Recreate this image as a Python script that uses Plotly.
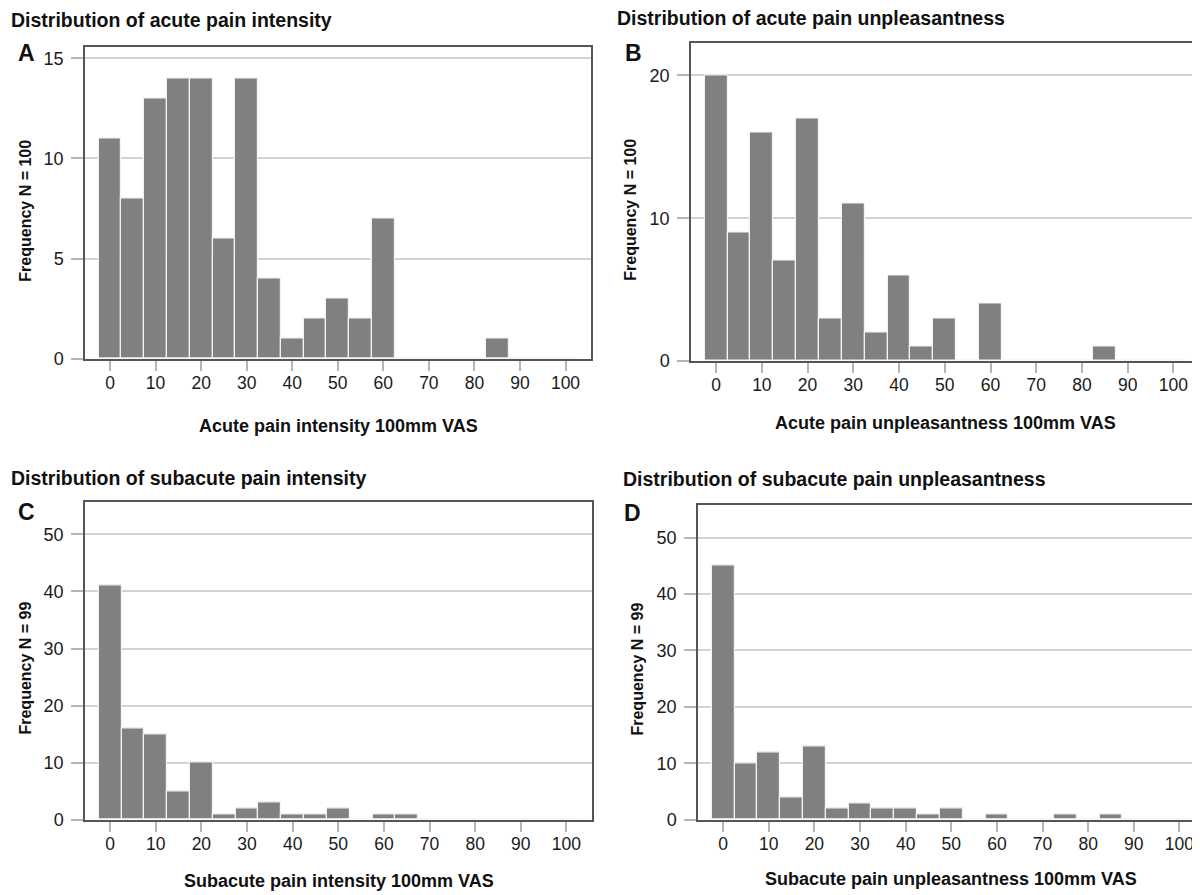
import plotly.graph_objects as go
from plotly.subplots import make_subplots

# bin centres of the 5 mm histogram bins
bin_centers = list(range(0, 101, 5))

# frequencies per bin
acute_intensity = [11, 8, 13, 14, 14, 6, 14, 4, 1, 2, 3, 2, 7, 0, 0, 0, 0, 1, 0, 0, 0]
acute_unpleasantness = [20, 9, 16, 7, 17, 3, 11, 2, 6, 1, 3, 0, 4, 0, 0, 0, 0, 1, 0, 0, 0]
subacute_intensity = [41, 16, 15, 5, 10, 1, 2, 3, 1, 1, 2, 0, 1, 1, 0, 0, 0, 0, 0, 0, 0]
subacute_unpleasantness = [45, 10, 12, 4, 13, 2, 3, 2, 2, 1, 2, 0, 1, 0, 0, 1, 0, 1, 0, 0, 0]

panel_titles = ["Distribution of acute pain intensity",
                "Distribution of acute pain unpleasantness",
                "Distribution of subacute pain intensity",
                "Distribution of subacute pain unpleasantness"]
x_titles = ["Acute pain intensity 100mm VAS",
            "Acute pain unpleasantness 100mm VAS",
            "Subacute pain intensity 100mm VAS",
            "Subacute pain unpleasantness 100mm VAS"]
y_titles = ["Frequency N = 100", "Frequency N = 100",
            "Frequency N = 99", "Frequency N = 99"]
letters = ["A", "B", "C", "D"]
x_ticks = list(range(0, 101, 10))

series = [acute_intensity, acute_unpleasantness, subacute_intensity, subacute_unpleasantness]

W, H = 1200, 895
FONT = "Liberation Sans, Arial, sans-serif"

# plot boxes in pixels (left, right, top, bottom) and axis settings
boxes = [(77, 583, 39, 355), (683, 1191, 35, 357), (77, 584, 500, 821), (690, 1197, 503, 821)]
y_top = [15.58, 22.3, 55.6, 55.7]
y_step = [5, 10, 10, 10]
title_pos = [(1, 12), (607, 10), (1, 475), (613, 476)]
letter_pos = [(18, 46), (625, 46), (18, 510), (624, 511)]
xt_pos = [(330, 423), (937, 420), (331, 883), (943, 881)]
yt_pos = [(18, 205), (623, 204), (18, 668), (630, 669)]

fig = make_subplots(rows=2, cols=2)

for i, counts in enumerate(series):
    r, c = i // 2 + 1, i % 2 + 1
    fig.add_trace(go.Bar(x=bin_centers, y=counts, width=5,
                         marker=dict(color="#808080", line=dict(color="#f2f2f2", width=1.2)),
                         showlegend=False), row=r, col=c)
    l, rt, t, b = boxes[i]
    fig.update_xaxes(domain=[l / W, rt / W], range=[-5.5, 105.6],
                     tickvals=x_ticks, ticks="outside", ticklen=10, tickwidth=1.5,
                     tickcolor="#b5b5b5", showgrid=False, zeroline=False,
                     showline=True, linecolor="#555555", linewidth=1.5, mirror=True,
                     ticklabelstandoff=-3,
                     tickfont=dict(family=FONT, size=17.5, color="#1a1a1a"), row=r, col=c)
    fig.update_yaxes(domain=[1 - b / H, 1 - t / H], range=[0, y_top[i]],
                     dtick=y_step[i], tick0=0, ticks="outside", ticklen=12, tickwidth=1.5,
                     tickcolor="#b5b5b5", showgrid=True, gridcolor="#d3d3d3", gridwidth=1.5,
                     zeroline=False, showline=True, linecolor="#555555", linewidth=1.5,
                     mirror=True, ticklabelstandoff=4,
                     tickfont=dict(family=FONT, size=18, color="#1a1a1a"), row=r, col=c)

    fig.add_annotation(text=panel_titles[i], x=title_pos[i][0] / W, y=1 - title_pos[i][1] / H,
                       xref="paper", yref="paper", xanchor="left", yanchor="middle",
                       showarrow=False, font=dict(family=FONT, size=19.5, color="#111", weight="bold"))
    fig.add_annotation(text=letters[i], x=letter_pos[i][0] / W, y=1 - letter_pos[i][1] / H,
                       xref="paper", yref="paper", xanchor="center", yanchor="middle",
                       showarrow=False, font=dict(family=FONT, size=23, color="#111", weight="bold"))
    fig.add_annotation(text=x_titles[i], x=xt_pos[i][0] / W, y=1 - xt_pos[i][1] / H,
                       xref="paper", yref="paper", xanchor="center", yanchor="middle",
                       showarrow=False, font=dict(family=FONT, size=18, color="#111", weight="bold"))
    fig.add_annotation(text=y_titles[i], x=yt_pos[i][0] / W, y=1 - yt_pos[i][1] / H,
                       xref="paper", yref="paper", xanchor="center", yanchor="middle",
                       textangle=-90, showarrow=False,
                       font=dict(family=FONT, size=16, color="#111", weight="bold"))

fig.update_layout(width=W, height=H, margin=dict(l=0, r=0, t=0, b=0),
                  plot_bgcolor="white", paper_bgcolor="white", bargap=0)

fig.write_html("out.html")
